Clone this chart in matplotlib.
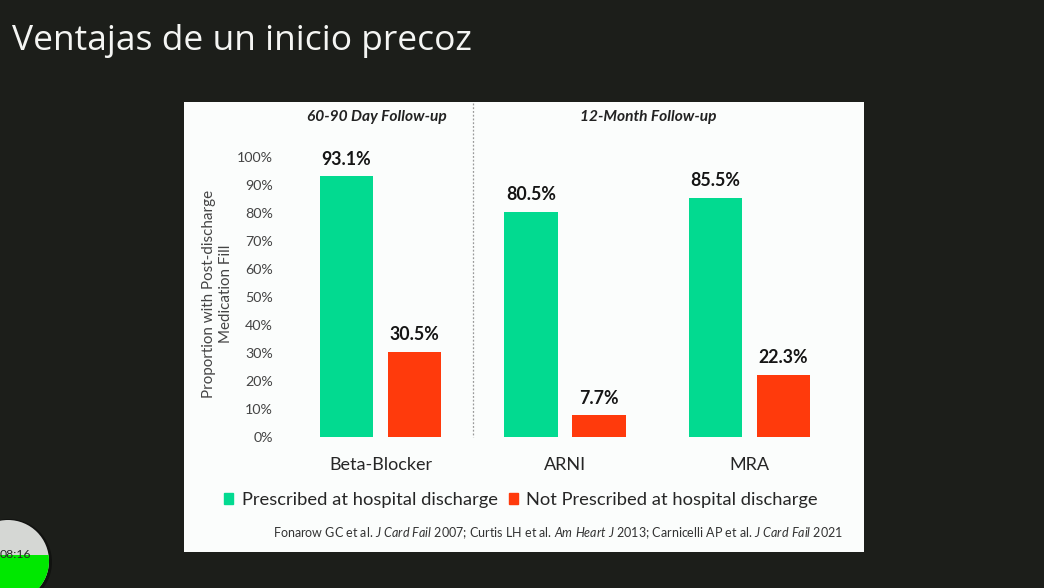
import matplotlib
matplotlib.use("Agg")
import matplotlib.pyplot as plt
import numpy as np
from matplotlib.lines import Line2D
from matplotlib.patches import Circle, Rectangle, Patch

categories = ["Beta-Blocker", "ARNI", "MRA"]
prescribed = [93.1, 80.5, 85.5]
not_prescribed = [30.5, 7.7, 22.3]
y_ticks = list(range(0, 101, 10))
series_names = ["Prescribed at hospital discharge", "Not Prescribed at hospital discharge"]
GREEN = "#02DA90"
RED = "#FF3A0C"
BG = "#1C1E1A"
W, H = 1044, 588

plt.rcParams["font.family"] = ["Lato", "DejaVu Sans"]
plt.rcParams["mathtext.fontset"] = "custom"
plt.rcParams["mathtext.it"] = "Lato:italic"
plt.rcParams["mathtext.rm"] = "Lato"


def fx(px):
    return px / W


def fy(py):
    return 1 - py / H


fig = plt.figure(figsize=(W / 100, H / 100), dpi=100, facecolor=BG)

# White slide panel sits behind the axes
fig.add_artist(Rectangle((fx(184), fy(552)), 680 / W, 450 / H, transform=fig.transFigure,
                         fc="#FBFDFC", ec="none", zorder=-5))

ax = fig.add_axes([fx(285), fy(437), (840 - 285) / W, 280 / H], facecolor="none")
spacing = 184.5
ax.set_xlim(-(380.5 - 285) / spacing, (840 - 380.5) / spacing)
ax.set_ylim(0, 100)
x = np.arange(len(categories))
offset = 34 / spacing
width = 53.5 / spacing
bars_a = ax.bar(x - offset, prescribed, width, color=GREEN)
bars_b = ax.bar(x + offset, not_prescribed, width, color=RED)
for bars in (bars_a, bars_b):
    ax.bar_label(bars, fmt="%.1f%%", padding=6, fontsize=12.8, fontweight="bold", color="#151515")

for s in ax.spines.values():
    s.set_visible(False)
ax.set_yticks(y_ticks)
ax.set_yticklabels([f"{t}%" for t in y_ticks], fontsize=10.3, color="#444444")
ax.tick_params(axis="y", length=0, pad=8.6)
ax.set_xticks(x)
ax.set_xticklabels(categories, fontsize=13, color="#262626")
ax.tick_params(axis="x", length=0, pad=14.5)
ax.set_ylabel("Proportion with Post-discharge\nMedication Fill", fontsize=10.9, color="#444444",
              linespacing=1.25)
ax.yaxis.set_label_coords((233 - 285) / (840 - 285), 0.51)

# Divider between the two follow-up windows
fig.add_artist(Line2D([fx(473), fx(473)], [fy(103), fy(437)], transform=fig.transFigure,
                      color="#9A9A9A", lw=0.9, ls=(0, (1.5, 1.5))))

fig.text(fx(376.5), fy(117), "60-90 Day Follow-up", fontsize=11.2, fontweight="bold", style="italic",
         ha="center", va="center", color="#222222")
fig.text(fx(648), fy(117), "12-Month Follow-up", fontsize=11.2, fontweight="bold", style="italic",
         ha="center", va="center", color="#222222")

fig.legend(handles=[Patch(color=GREEN, label=series_names[0]), Patch(color=RED, label=series_names[1])],
           loc="center", bbox_to_anchor=(fx(521), fy(500)), ncol=2, frameon=False, fontsize=13.2,
           handlelength=0.5, handleheight=0.5, handletextpad=0.45, columnspacing=0.62,
           labelcolor="#262626")

fig.text(fx(558), fy(533),
         r"Fonarow GC et al. $\mathit{J\ Card\ Fail}$ 2007; Curtis LH et al. $\mathit{Am\ Heart\ J}$ 2013; "
         r"Carnicelli AP et al. $\mathit{J\ Card\ Fail}$ 2021",
         fontsize=9.0, ha="center", va="center", color="#333333")

fig.text(fx(12), fy(41), "Ventajas de un inicio precoz", fontsize=25.5, color="#F4F5F3",
         ha="left", va="center", family="Open Sans")

# Elapsed-time badge in the lower-left corner
bx = fig.add_axes([0, 0, 1, 1], facecolor="none")
bx.set_xlim(0, W)
bx.set_ylim(0, H)
bx.axis("off")
bx.add_patch(Circle((9, H - 562), 43, fc="#111210", ec="none"))
top = Circle((8, H - 561), 41, fc="#D5D7D4", ec="none")
bx.add_patch(top)
low = Rectangle((-40, 0), 100, H - 555, fc="#00E800", ec="none")
bx.add_patch(low)
low.set_clip_path(top)
bx.text(15.5, H - 554, "08:16", fontsize=8.8, color="#2A2A2A", ha="center", va="center")

fig.savefig("out.png", dpi=100, facecolor=BG)
